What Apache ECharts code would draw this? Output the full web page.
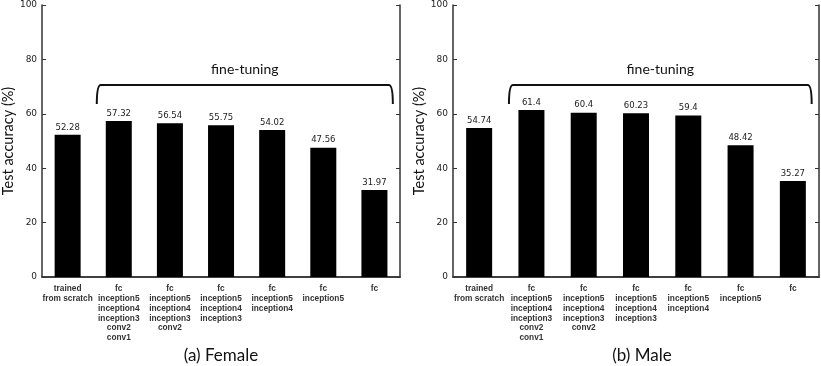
<!DOCTYPE html>
<html>
<head>
<meta charset="utf-8">
<script src="https://cdn.jsdelivr.net/npm/echarts@6/dist/echarts.min.js"></script>
<style>
  html, body { margin: 0; padding: 0; background: #fff; }
  #chart { width: 821px; height: 366px; }
</style>
</head>
<body>
<div id="chart"></div>
<script>
// data
const categories = [
  "trained\nfrom scratch",
  "fc\ninception5\ninception4\ninception3\nconv2\nconv1",
  "fc\ninception5\ninception4\ninception3\nconv2",
  "fc\ninception5\ninception4\ninception3",
  "fc\ninception5\ninception4",
  "fc\ninception5",
  "fc",
];
const femaleAcc = [52.28, 57.32, 56.54, 55.75, 54.02, 47.56, 31.97];
const maleAcc = [54.74, 61.4, 60.4, 60.23, 59.4, 48.42, 35.27];
const yTicks = [0, 20, 40, 60, 80, 100];
const panelTitles = ["(a) Female", "(b) Male"];
const bracketText = "fine-tuning";

// bracket over the fine-tuning bars, in axis units (category index / percent)
const bracketFrom = 0.57;
const bracketTo = 6.36;
const bracketLevel = 70.6;
const bracketFoot = 63.6;
const bracketTextLevel = 73.6;

const frameColor = "#333";
const chart = echarts.init(document.getElementById("chart"));

const grids = [
  { left: 33, right: 421, top: 5, bottom: 89 },
  { left: 453, right: 2, top: 5, bottom: 89 },
];

const xAxes = [];
const yAxes = [];
const series = [];

[femaleAcc, maleAcc].forEach((values, i) => {
  // bottom category axis with labels
  xAxes.push({
    type: "category",
    gridIndex: i,
    data: categories,
    axisLine: { lineStyle: { color: frameColor, width: 1.5 } },
    axisTick: { show: false },
    axisLabel: {
      interval: 0,
      margin: 7,
      fontFamily: "Liberation Sans",
      fontSize: 8.3,
      fontWeight: "bold",
      lineHeight: 9.8,
      color: "#333",
    },
  });
  // top frame with ticks at bar centres
  xAxes.push({
    type: "category",
    gridIndex: i,
    position: "top",
    data: categories,
    axisLine: { lineStyle: { color: frameColor, width: 1.5 } },
    axisTick: { inside: true, alignWithLabel: true, length: 4, lineStyle: { color: frameColor } },
    axisLabel: { show: false },
  });
  yAxes.push({
    type: "value",
    gridIndex: i,
    min: yTicks[0],
    max: yTicks[yTicks.length - 1],
    interval: 20,
    name: "Test accuracy (%)",
    nameLocation: "middle",
    nameGap: 19,
    nameTextStyle: { fontFamily: "Lato", fontSize: 14.5, color: "#111" },
    axisLine: { show: true, lineStyle: { color: frameColor, width: 1.5 } },
    axisTick: { show: true, inside: true, length: 4, lineStyle: { color: frameColor } },
    axisLabel: { fontFamily: "DejaVu Sans", fontSize: 9, color: "#222", margin: 5 },
    splitLine: { show: false },
  });
  yAxes.push({
    type: "value",
    gridIndex: i,
    position: "right",
    min: yTicks[0],
    max: yTicks[yTicks.length - 1],
    interval: 20,
    axisLine: { show: true, lineStyle: { color: frameColor, width: 1.5 } },
    axisTick: { show: true, inside: true, length: 4, lineStyle: { color: frameColor } },
    axisLabel: { show: false },
    splitLine: { show: false },
  });

  series.push({
    type: "bar",
    xAxisIndex: i * 2,
    yAxisIndex: i * 2,
    data: values,
    barWidth: 26,
    itemStyle: { color: "#000" },
    label: {
      show: true,
      position: "top",
      distance: 3,
      fontFamily: "DejaVu Sans",
      fontSize: 8.5,
      color: "#222",
      formatter: (p) => String(p.value),
    },
  });

  // curly bracket + text, positioned through the axes
  series.push({
    type: "custom",
    xAxisIndex: i * 2,
    yAxisIndex: i * 2,
    data: [[0, bracketLevel]],
    silent: true,
    z: 5,
    renderItem: (params, api) => {
      const base = api.coord([0, bracketLevel]);
      const band = api.size([1, 0])[0];
      const x0 = base[0] + bracketFrom * band;
      const x1 = base[0] + bracketTo * band;
      const yTop = base[1];
      const yFoot = api.coord([0, bracketFoot])[1];
      const yText = api.coord([0, bracketTextLevel])[1];
      const r = 4;
      const path =
        `M${x0},${yFoot} Q${x0},${yTop} ${x0 + r},${yTop} ` +
        `L${x1 - r},${yTop} Q${x1},${yTop} ${x1},${yFoot}`;
      return {
        type: "group",
        children: [
          {
            type: "path",
            shape: { pathData: path },
            style: { fill: null, stroke: "#111", lineWidth: 2 },
          },
          {
            type: "text",
            style: {
              text: bracketText,
              x: (x0 + x1) / 2,
              y: yText,
              align: "center",
              verticalAlign: "bottom",
              font: "14px Lato",
              fill: "#111",
            },
          },
        ],
      };
    },
  });
});

const option = {
  animation: false,
  backgroundColor: "#fff",
  title: panelTitles.map((t, i) => ({
    text: t,
    left: i === 0 ? 216 : 637,
    top: 342,
    textAlign: "center",
    textStyle: { fontFamily: "Lato", fontSize: 17, fontWeight: "normal", color: "#111" },
  })),
  grid: grids,
  xAxis: xAxes,
  yAxis: yAxes,
  series: series,
};

chart.setOption(option);
</script>
</body>
</html>
